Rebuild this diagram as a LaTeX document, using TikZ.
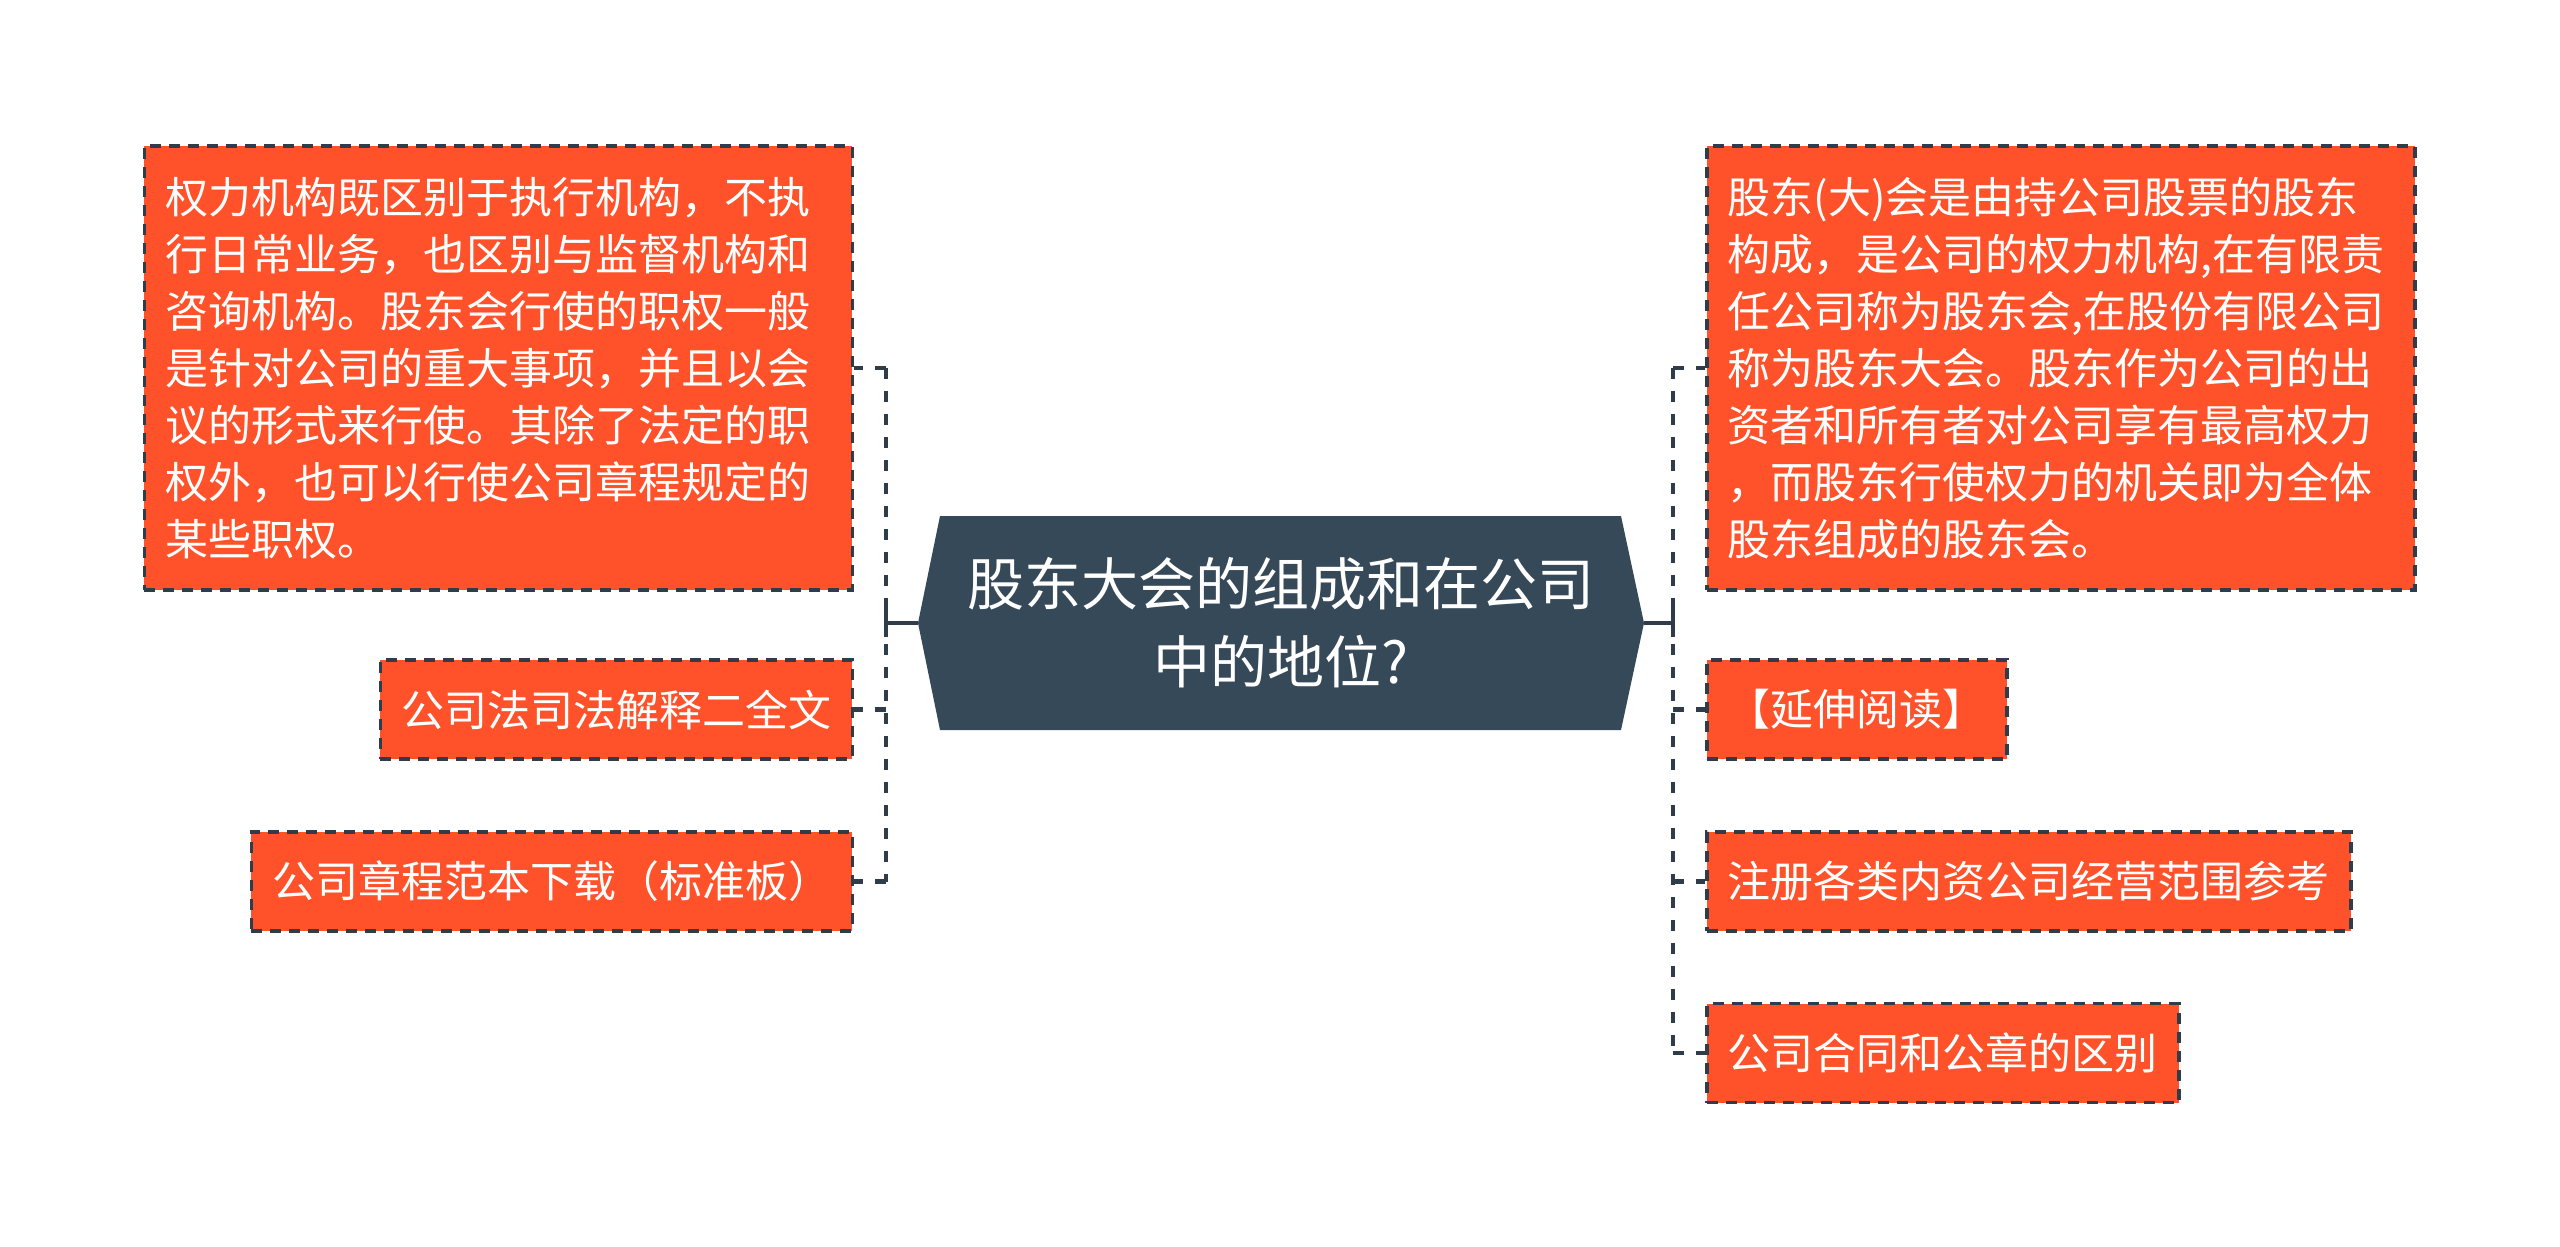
\documentclass[tikz,border=0pt]{standalone}
\usepackage{fontspec}
\setmainfont{Noto Sans CJK SC}
\definecolor{orangeC}{HTML}{FF522A}
\definecolor{lineC}{HTML}{2F3D4B}
\definecolor{rootC}{HTML}{364959}
\tikzset{
  leaf/.style={draw=lineC, line width=3.5pt, dash pattern=on 11pt off 8pt,
    fill=orangeC, text=white, font=\fontsize{43}{57}\selectfont,
    inner xsep=21pt, inner ysep=0pt, minimum height=99pt},
  bigleaf/.style={leaf, text width=666pt, align=left, minimum height=444pt},
  conn/.style={draw=lineC, line width=4.5pt, dash pattern=on 11pt off 12pt},
  trunk/.style={draw=lineC, line width=4.5pt},
}
\begin{document}
\begin{tikzpicture}[x=1pt,y=-1pt]
\useasboundingbox[fill=white] (0,0) rectangle (2560,1247);

% root
\coordinate (rootL) at (918,623);
\coordinate (rootR) at (1644,623);
\fill[rootC] (940,516) -- (1621,516) -- (rootR) -- (1621,730) -- (940,730) -- (rootL) -- cycle;
\node[text=white, font=\fontsize{57}{78}\selectfont, align=center] (root) at (1281,623)
  {股东大会的组成和在公司\\中的地位?};

% left
\node[bigleaf, anchor=north east] (L1) at (854,144) {权力机构既区别于执行机构，不执\\行日常业务，也区别与监督机构和\\咨询机构。股东会行使的职权一般\\是针对公司的重大事项，并且以会\\议的形式来行使。其除了法定的职\\权外，也可以行使公司章程规定的\\某些职权。};
\node[leaf, anchor=east] (L2) at (854,709.5) {公司法司法解释二全文};
\node[leaf, anchor=east] (L3) at (854,881.5) {公司章程范本下载（标准板）};

% right
\node[bigleaf, anchor=north west] (R1) at (1705,144) {股东(大)会是由持公司股票的股东\\构成，是公司的权力机构,在有限责\\任公司称为股东会,在股份有限公司\\称为股东大会。股东作为公司的出\\资者和所有者对公司享有最高权力\\，而股东行使权力的机关即为全体\\股东组成的股东会。};
\node[leaf, anchor=west] (R2) at (1705,709.5) {【延伸阅读】};
\node[leaf, anchor=west] (R3) at (1705,881.5) {注册各类内资公司经营范围参考};
\node[leaf, anchor=west] (R4) at (1705,1053) {公司合同和公章的区别};

% connectors
\coordinate (jL) at (886,623);
\coordinate (jR) at (1673,623);
\draw[trunk] (rootL) -- (jL);
\draw[trunk] (rootR) -- (jR);
\draw[trunk] ([yshift=-14pt]jL) -- ([yshift=14pt]jL);
\draw[trunk] ([yshift=-14pt]jR) -- ([yshift=14pt]jR);
\draw[conn] (jL |- L1.east) -- (jL |- L3.east);
\draw[conn] (jR |- R1.west) -- (jR |- R4.west);
\draw[conn] (jL |- L1.east) -- (L1.east);
\draw[conn] (jL |- L2.east) -- (L2.east);
\draw[conn] (jL |- L3.east) -- (L3.east);
\draw[conn] (jR |- R1.west) -- (R1.west);
\draw[conn] (jR |- R2.west) -- (R2.west);
\draw[conn] (jR |- R3.west) -- (R3.west);
\draw[conn] (jR |- R4.west) -- (R4.west);
\end{tikzpicture}
\end{document}
